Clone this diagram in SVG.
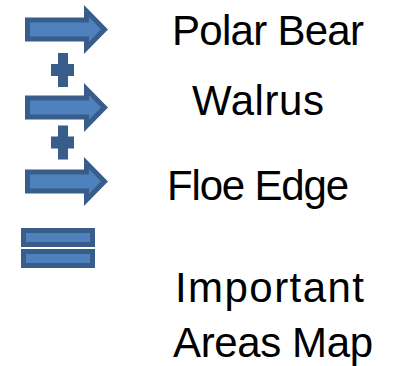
<svg xmlns="http://www.w3.org/2000/svg" width="394" height="366" viewBox="0 0 394 366">
  <style>
    .shape { fill: #4F81BD; stroke: #385D8A; stroke-width: 5; stroke-linejoin: miter; }
    .op { fill: #385D8A; }
    .label { font-family: "Liberation Sans", Arial, sans-serif; font-size: 42px; fill: #000000; }
  </style>
  <defs>
    <path id="arrow" d="M27.5,-9.5 H86.5 V-18.4 L104.5,0 L86.5,18.4 V9.5 H27.5 Z"/>
    <path id="plus" d="M58,0 H68 V11 H74 V23 H68 V34 H58 V23 H51 V11 H58 Z"/>
  </defs>
  <rect width="394" height="366" fill="#ffffff"/>

  <g id="polar-bear">
    <use href="#arrow" class="shape" transform="translate(0,29.5)"/>
    <text class="label" x="172" y="44.5" textLength="192">Polar Bear</text>
  </g>

  <g id="walrus">
    <use href="#arrow" class="shape" transform="translate(0,107.5)"/>
    <text class="label" x="192" y="115" textLength="132">Walrus</text>
  </g>

  <g id="floe-edge">
    <use href="#arrow" class="shape" transform="translate(0,181.5)"/>
    <text class="label" x="167" y="200" textLength="182">Floe Edge</text>
  </g>

  <g id="important-areas-map">
    <text class="label" x="175" y="302" textLength="189">Important</text>
    <text class="label" x="173" y="357" textLength="200">Areas Map</text>
  </g>

  <g id="connectors">
    <use href="#plus" class="op" transform="translate(0,53)"/>
    <use href="#plus" class="op" transform="translate(0,125.5)"/>
    <g id="equals">
      <rect class="shape" x="23.5" y="230.5" width="69" height="14"/>
      <rect class="shape" x="23.5" y="251.5" width="69" height="14"/>
    </g>
  </g>
</svg>
